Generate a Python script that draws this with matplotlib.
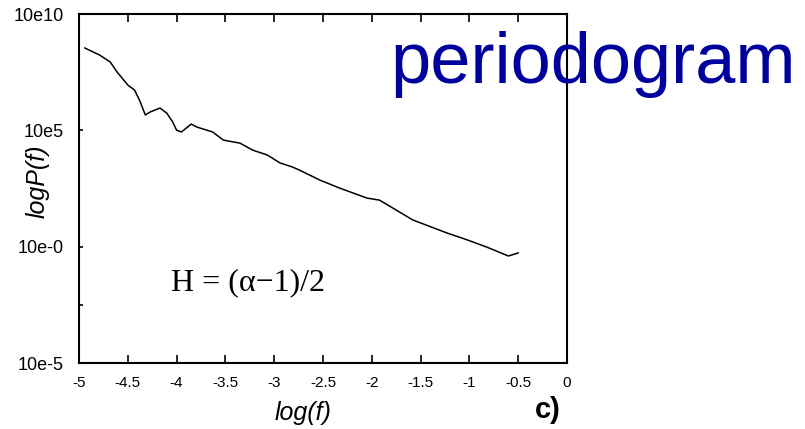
import numpy as np
import matplotlib
matplotlib.use('Agg')
import matplotlib.pyplot as plt
from matplotlib.ticker import FixedLocator, NullFormatter

# log10(f) and log10(P)
log_f = [-4.94, -4.79, -4.68, -4.61, -4.50, -4.43, -4.38, -4.32, -4.27, -4.17,
         -4.10, -4.04, -4.00, -3.95, -3.85, -3.79, -3.63, -3.52, -3.35, -3.22,
         -3.07, -2.94, -2.81, -2.74, -2.53, -2.33, -2.05, -1.92, -1.58, -1.23,
         -1.02, -0.82, -0.60, -0.50]
log_p = [8.54, 8.24, 7.94, 7.51, 6.95, 6.73, 6.30, 5.66, 5.79, 5.96,
         5.74, 5.36, 5.01, 4.93, 5.27, 5.14, 4.93, 4.58, 4.45, 4.15,
         3.94, 3.60, 3.42, 3.29, 2.86, 2.52, 2.09, 2.00, 1.15, 0.59,
         0.29, -0.02, -0.40, -0.27]

x_ticks = [-5, -4.5, -4, -3.5, -3, -2.5, -2, -1.5, -1, -0.5, 0]
x_labels = ['-5', '-4.5', '-4', '-3.5', '-3', '-2.5', '-2', '-1.5', '-1', '-0.5', '0']
y_ticks = [1e-5, 1e0, 1e5, 1e10]
y_labels = ['10e-5', '10e-0', '10e5', '10e10']

fig = plt.figure(figsize=(8.05, 4.29), dpi=100)
ax = fig.add_axes([0.0981, 0.1538, 0.6062, 0.8135])

ax.plot(log_f, 10 ** np.array(log_p), color='black', lw=1.1)

ax.set_yscale('log')
ax.set_xlim(-5, 0)
ax.set_ylim(1e-5, 1e10)
ax.set_xticks(x_ticks)
ax.set_xticklabels(x_labels, fontsize=11, family='Liberation Sans')
ax.set_yticks(y_ticks)
ax.set_yticklabels(y_labels, fontsize=13, family='Liberation Sans')
ax.yaxis.set_minor_locator(FixedLocator([10 ** -2.5]))
ax.yaxis.set_minor_formatter(NullFormatter())

ax.tick_params(axis='x', direction='in', length=6, width=1.2, top=True, pad=9)
ax.tick_params(axis='y', direction='in', length=3, width=1.2, right=False, pad=11)
ax.tick_params(axis='y', which='minor', direction='in', length=3, width=1.2, right=False)
for s in ax.spines.values():
    s.set_linewidth(1.5)

ax.set_xlabel('log(f)', fontsize=18, style='italic', family='Liberation Sans')
ax.xaxis.set_label_coords(0.459, -0.108)
ax.set_ylabel('logP(f)', fontsize=18, style='italic', family='Liberation Sans')
ax.yaxis.set_label_coords(-0.06, 0.52)

ax.text(0.1885, 0.209, 'H = (\u03b1\u22121)/2', transform=ax.transAxes,
        fontsize=23, family='Liberation Serif', ha='left', va='baseline')

fig.text(0.4845, 0.8065, 'periodogram', fontsize=52, color='#00009c',
         family='Liberation Sans', ha='left', va='baseline')
fig.text(0.68, 0.044, 'c)', fontsize=21, fontweight='bold',
         family='Liberation Sans', ha='center', va='center')

fig.savefig('out.png', dpi=100)
